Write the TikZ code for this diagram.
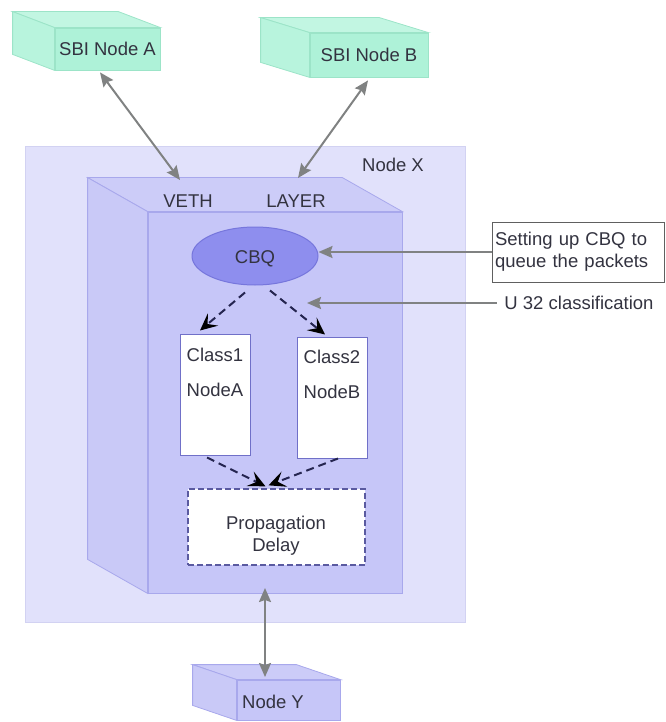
\documentclass[tikz,border=0pt]{standalone}
\usepackage{fontspec}
\setmainfont{Liberation Sans}
\usetikzlibrary{arrows.meta,shapes.geometric,calc}

\definecolor{txt}{HTML}{333340}
\definecolor{nodexfill}{HTML}{E1E1FB}
\definecolor{nodexdraw}{HTML}{D2D2F2}
\definecolor{lavfront}{HTML}{C6C6F8}
\definecolor{lavleft}{HTML}{C9C9F7}
\definecolor{lavtop}{HTML}{CCCCF8}
\definecolor{lavedge}{HTML}{A8A8EC}
\definecolor{mintfront}{HTML}{AEF2D8}
\definecolor{mintleft}{HTML}{B8F4DD}
\definecolor{minttop}{HTML}{C2F6E2}
\definecolor{mintedge}{HTML}{9CE4C8}
\definecolor{cbqfill}{HTML}{8E8EEE}
\definecolor{cbqdraw}{HTML}{7676DC}
\definecolor{boxdraw}{HTML}{7070C8}
\definecolor{dashcol}{HTML}{252550}
\definecolor{arrowgray}{HTML}{808282}
\definecolor{calloutgray}{HTML}{606060}

\begin{document}
\begin{tikzpicture}[x=1pt,y=-1pt,
  every node/.style={font=\fontsize{18.5}{22}\selectfont, text=txt},
  lavface/.style={fill=lavfront, draw=lavedge, line width=0.8pt, inner sep=0pt},
  mintface/.style={fill=mintfront, draw=mintedge, line width=0.8pt, inner sep=0pt},
  classbox/.style={fill=white, draw=boxdraw, line width=1pt, inner sep=0pt, minimum width=70pt, minimum height=121pt},
  propbox/.style={fill=white, draw=boxdraw!80!black, line width=1.3pt, dash pattern=on 6pt off 3pt, inner sep=0pt},
  callout/.style={fill=white, draw=calloutgray, line width=1pt, align=left, inner xsep=3pt, inner ysep=0pt},
  garrow/.style={draw=arrowgray, line width=2pt,
    {Stealth[length=14pt,width=12pt,inset=2pt]}-{Stealth[length=14pt,width=12pt,inset=2pt]}},
  garrowone/.style={draw=arrowgray, line width=2pt, -{Stealth[length=14pt,width=12pt,inset=2pt]}},
  darrow/.style={draw=dashcol, line width=2pt, dash pattern=on 8pt off 5pt,
    -{Stealth[length=17pt,width=16pt,inset=7pt,color=black]}}
]
\useasboundingbox (0,0) rectangle (665,722);

% Node X container
\node[fill=nodexfill, draw=nodexdraw, line width=1pt, inner sep=0pt,
      minimum width=440pt, minimum height=475pt] (nodex) at (245,384.5) {};
\node (nodexlbl) at (393,165) {Node X};

% VETH layer block (front face plus top and left faces)
\node[lavface, minimum width=254pt, minimum height=381pt] (veth) at (275,402.5) {};
\filldraw[fill=lavtop, draw=lavedge, line width=0.8pt]
  (veth.north west) -- ++(-60,-34) -- ($(veth.north east)+(-60,-34)$) -- (veth.north east) -- cycle;
\filldraw[fill=lavleft, draw=lavedge, line width=0.8pt]
  (veth.north west) -- ++(-60,-34) -- ($(veth.south west)+(-60,-34)$) -- (veth.south west) -- cycle;
\node (vethlbl) at (188,201) {VETH};
\node (layerlbl) at (296,201) {LAYER};

% Queueing discipline
\node[ellipse, fill=cbqfill, draw=cbqdraw, line width=1pt, inner sep=0pt,
      minimum width=126pt, minimum height=58pt] (cbq) at (255,256) {};
\node (cbqlbl) at (255,259) {CBQ};

\node[classbox] (class1) at (215,394.5) {};
\node (c1a) at (215,355) {Class1};
\node (c1b) at (215,390) {NodeA};
\node[classbox] (class2) at (332,397.5) {};
\node (c2a) at (332,357) {Class2};
\node (c2b) at (332,392) {NodeB};

\node[propbox, minimum width=177pt, minimum height=76pt] (prop) at (276.5,527) {};
\node[align=center] (proplbl) at (276,536) {Propagation\\Delay};

% Dashed flow arrows
\draw[darrow] ([xshift=-10pt,yshift=-7pt]cbq.south) -- ([xshift=-15pt,yshift=3pt]class1.north);
\draw[darrow] ([xshift=15pt,yshift=-5pt]cbq.south) -- ([xshift=-7pt,yshift=2pt]class2.north);
\draw[darrow] ([xshift=-8pt,yshift=-2pt]class1.south) -- ([xshift=-11pt,yshift=2pt]prop.north);
\draw[darrow] ([xshift=6pt]class2.south) -- ([xshift=-8pt,yshift=3pt]prop.north);

% Annotations
\node[callout, text width=166pt, minimum height=60pt] (note) at (578,252)
  {Setting up CBQ to\\queue the packets};
\draw[garrowone] (note.west) -- (note.west -| cbq.east);
\node (u32) at (579,303) {U 32 classification};
\coordinate (u32tip) at (307,303);
\draw[garrowone] ([xshift=-4pt]u32.west) -- (u32tip);

% SBI Node A
\node[mintface, minimum width=105pt, minimum height=42pt] (sbiA) at (107.5,49) {SBI Node A};
\filldraw[fill=minttop, draw=mintedge, line width=0.8pt]
  (sbiA.north west) -- ++(-42,-16) -- ($(sbiA.north east)+(-42,-16)$) -- (sbiA.north east) -- cycle;
\filldraw[fill=mintleft, draw=mintedge, line width=0.8pt]
  (sbiA.north west) -- ++(-42,-16) -- ($(sbiA.south west)+(-42,-16)$) -- (sbiA.south west) -- cycle;

% SBI Node B
\node[mintface, minimum width=118pt, minimum height=44pt] (sbiB) at (369,55) {SBI Node B};
\filldraw[fill=minttop, draw=mintedge, line width=0.8pt]
  (sbiB.north west) -- ++(-49,-15) -- ($(sbiB.north east)+(-49,-15)$) -- (sbiB.north east) -- cycle;
\filldraw[fill=mintleft, draw=mintedge, line width=0.8pt]
  (sbiB.north west) -- ++(-49,-15) -- ($(sbiB.south west)+(-49,-15)$) -- (sbiB.south west) -- cycle;

% Node Y
\node[lavface, minimum width=103pt, minimum height=40pt] (nodey) at (288.5,700) {};
\filldraw[fill=lavtop, draw=lavedge, line width=0.8pt]
  (nodey.north west) -- ++(-44,-15) -- ($(nodey.north east)+(-44,-15)$) -- (nodey.north east) -- cycle;
\filldraw[fill=lavleft, draw=lavedge, line width=0.8pt]
  (nodey.north west) -- ++(-44,-15) -- ($(nodey.south west)+(-44,-15)$) -- (nodey.south west) -- cycle;
\node (nodeylbl) at (273,702) {Node Y};

% Links between the nodes
\coordinate (vethA) at (180,180);
\coordinate (layerB) at (298,178);
\coordinate (vethbot) at (265,588);
\coordinate (ytop) at (265,677);
\draw[garrow] ([xshift=-7.5pt,yshift=-2pt]sbiA.south) -- (vethA);
\draw[garrow] (layerB) -- ([xshift=-1pt,yshift=-3pt]sbiB.south);
\draw[garrow] (vethbot) -- (ytop);
\end{tikzpicture}
\end{document}
